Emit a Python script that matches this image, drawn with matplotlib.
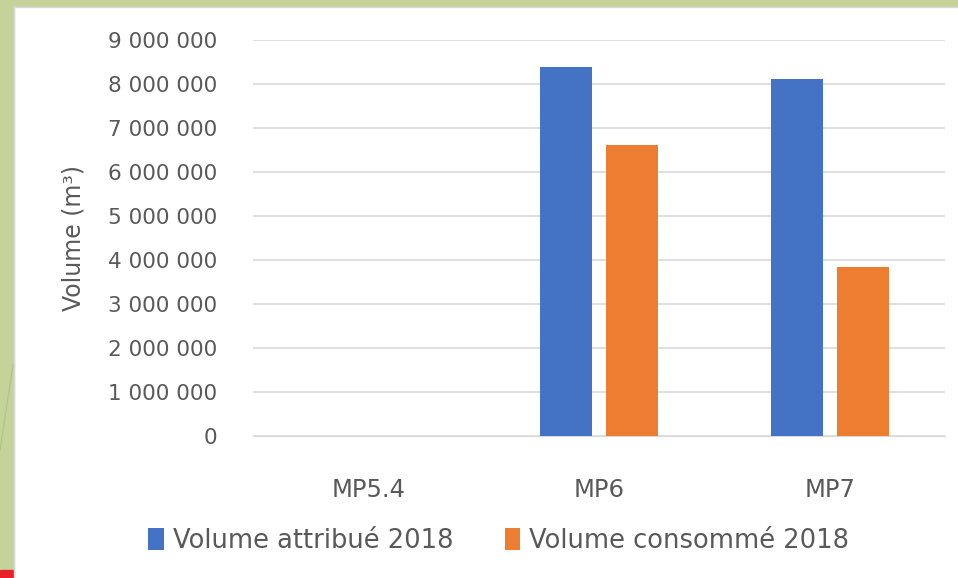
import matplotlib
matplotlib.use("Agg")
import numpy as np
import matplotlib.pyplot as plt
from matplotlib.patches import Rectangle
from matplotlib.lines import Line2D
from matplotlib.ticker import FuncFormatter

categories = ["MP5.4", "MP6", "MP7"]
attribue = [0, 8390000, 8110000]
consomme = [0, 6610000, 3840000]
series_names = ["Volume attribué 2018", "Volume consommé 2018"]

BLUE = "#4472c4"
ORANGE = "#ed7d31"
GREEN = "#c5d39a"
TXT = "#595959"
FONT = ["DejaVu Sans"]
plt.rcParams["font.family"] = FONT

W, H = 958, 578
fig = plt.figure(figsize=(W / 100, H / 100), dpi=100)
fig.patch.set_facecolor("white")

# slide frame: green border, faint diagonal, red corner
fig.add_artist(Rectangle((0, 0), 14 / W, 1, transform=fig.transFigure, color=GREEN, zorder=0))
fig.add_artist(Rectangle((0, 1 - 6 / H), 1, 6 / H, transform=fig.transFigure, color=GREEN, zorder=0))
fig.add_artist(Line2D([14 / W, 14 / W], [0, 1 - 6 / H], transform=fig.transFigure, color="#d9d9d9", lw=1))
fig.add_artist(Line2D([14 / W, 1], [1 - 7 / H, 1 - 7 / H], transform=fig.transFigure, color="#d9d9d9", lw=1))
fig.add_artist(Line2D([0, 13 / W], [1 - 450 / H, 1 - 365 / H], transform=fig.transFigure, color="#b5c486", lw=1))
fig.add_artist(Rectangle((0, 0), 13 / W, 8 / H, transform=fig.transFigure, color="#e8202a", zorder=1))

ax = fig.add_axes([253 / W, 1 - 436 / H, (945 - 253) / W, (436 - 40) / H])
x = np.arange(len(categories))
bw = 0.225
ax.bar(x - 0.143, attribue, bw, color=BLUE, label=series_names[0], zorder=3)
ax.bar(x + 0.143, consomme, bw, color=ORANGE, label=series_names[1], zorder=3)

ax.set_xlim(-0.5, 2.5)
ax.set_ylim(0, 9000000)
ax.set_yticks(np.arange(0, 9000001, 1000000))
ax.yaxis.set_major_formatter(FuncFormatter(lambda v, p: f"{int(v):,}".replace(",", " ")))
ax.set_xticks(x)
ax.set_xticklabels(categories)
ax.grid(axis="y", color="#d9d9d9", lw=1.2, zorder=0)
for s in ax.spines.values():
    s.set_visible(False)
ax.spines["bottom"].set_visible(True)
ax.spines["bottom"].set_color("#d9d9d9")
ax.tick_params(axis="y", length=0, pad=26, labelsize=15.5, labelcolor=TXT)
ax.tick_params(axis="x", length=0, pad=30, labelsize=17.5, labelcolor=TXT)
ax.set_ylabel("Volume (m³)", fontsize=17, color=TXT, labelpad=16)

ax.legend(loc="center", bbox_to_anchor=(0.355, -0.265), ncol=2, frameon=False,
          fontsize=18.5, labelcolor=TXT, handlelength=0.6, handleheight=0.9,
          handletextpad=0.35, columnspacing=2.0)

fig.savefig("out.png", facecolor="white")
